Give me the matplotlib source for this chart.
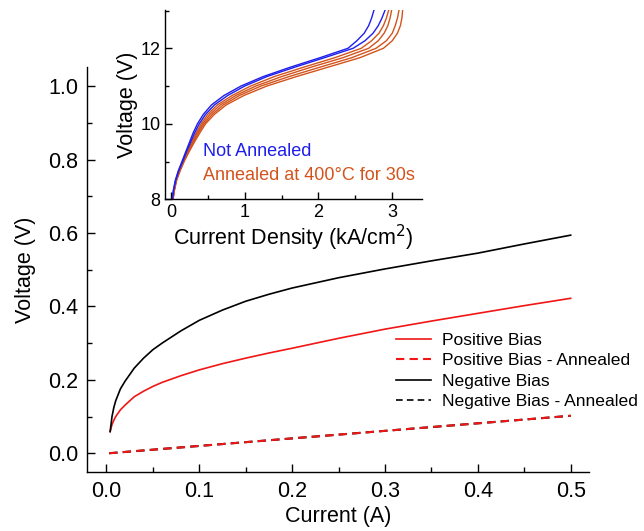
import matplotlib
matplotlib.use('Agg')
import matplotlib.pyplot as plt
from matplotlib.ticker import MultipleLocator

plt.rcParams['font.family'] = ['Liberation Sans', 'DejaVu Sans']

# main chart data
current = [0.004, 0.006, 0.008, 0.01, 0.015, 0.02, 0.03, 0.04, 0.05, 0.06, 0.08, 0.1,
           0.125, 0.15, 0.175, 0.2, 0.25, 0.3, 0.35, 0.4, 0.45, 0.5]
v_neg = [0.059, 0.100, 0.125, 0.143, 0.175, 0.196, 0.232, 0.259, 0.282, 0.300, 0.333, 0.362,
         0.390, 0.414, 0.433, 0.450, 0.478, 0.502, 0.524, 0.545, 0.570, 0.594]
v_pos = [0.059, 0.078, 0.090, 0.100, 0.118, 0.131, 0.154, 0.169, 0.182, 0.193, 0.211, 0.227,
         0.244, 0.259, 0.273, 0.286, 0.313, 0.338, 0.360, 0.381, 0.402, 0.422]
current_ann = [0.003, 0.5]
v_pos_ann = [0.0, 0.102]
v_neg_ann = [0.0, 0.102]

# inset data: current density (kA/cm2) at given voltages
inset_v = [8, 8.1, 8.25, 8.5, 8.75, 9, 9.25, 9.5, 9.75, 10, 10.25, 10.5, 10.75, 11,
           11.25, 11.5, 11.75, 12, 12.2, 12.4, 12.6, 12.8, 13]
not_annealed = [
    [0.02, 0.025, 0.035, 0.06, 0.10, 0.15, 0.20, 0.25, 0.30, 0.36, 0.44, 0.55, 0.72, 0.95,
     1.25, 1.62, 2.02, 2.40, 2.52, 2.62, 2.68, 2.72, 2.75],
    [0.02, 0.025, 0.037, 0.065, 0.105, 0.16, 0.21, 0.265, 0.32, 0.385, 0.47, 0.59, 0.77, 1.0,
     1.30, 1.68, 2.08, 2.47, 2.63, 2.74, 2.81, 2.86, 2.90],
]
annealed = [
    [0.03, 0.035, 0.045, 0.07, 0.11, 0.165, 0.22, 0.28, 0.34, 0.41, 0.50, 0.63, 0.83, 1.08,
     1.40, 1.80, 2.22, 2.58, 2.72, 2.82, 2.88, 2.92, 2.95],
    [0.03, 0.035, 0.046, 0.072, 0.115, 0.17, 0.23, 0.29, 0.355, 0.43, 0.53, 0.67, 0.88, 1.15,
     1.50, 1.90, 2.33, 2.68, 2.81, 2.89, 2.94, 2.97, 2.99],
    [0.03, 0.036, 0.048, 0.075, 0.12, 0.175, 0.235, 0.30, 0.37, 0.45, 0.56, 0.71, 0.93, 1.22,
     1.60, 2.02, 2.45, 2.78, 2.92, 3.00, 3.04, 3.07, 3.09],
    [0.03, 0.037, 0.05, 0.078, 0.125, 0.18, 0.245, 0.315, 0.39, 0.47, 0.59, 0.75, 0.99, 1.30,
     1.70, 2.13, 2.56, 2.88, 3.00, 3.07, 3.11, 3.13, 3.14],
]

RED = '#f01616'
BLUE = '#1e1eee'
ORANGE = '#d2541c'


def style_axes(ax, fs):
    ax.spines['top'].set_visible(False)
    ax.spines['right'].set_visible(False)
    for s in ('left', 'bottom'):
        ax.spines[s].set_linewidth(1.0)
    ax.tick_params(which='both', direction='in', width=1.0, labelsize=fs)
    ax.tick_params(which='major', length=6, pad=6)
    ax.tick_params(which='minor', length=3.5)


fig = plt.figure(figsize=(6.44, 5.31), dpi=100)

ax = fig.add_axes([0.135, 0.1105, 0.78, 0.764])
ax.plot(current, v_pos, color=RED, lw=1.2, label='Positive Bias')
ax.plot(current_ann, v_neg_ann, color='black', lw=1.5, ls=(0, (4, 2.5)))
ax.plot(current_ann, v_pos_ann, color=RED, lw=1.5, ls=(0, (4, 2.5)), label='Positive Bias - Annealed')
ax.plot(current, v_neg, color='black', lw=1.2, label='Negative Bias')
ax.plot([], [], color='black', lw=1.2, ls=(0, (4, 2.5)), label='Negative Bias - Annealed')
ax.set_xlim(-0.021, 0.52)
ax.set_ylim(-0.052, 1.053)
ax.xaxis.set_major_locator(MultipleLocator(0.1))
ax.xaxis.set_minor_locator(MultipleLocator(0.05))
ax.yaxis.set_major_locator(MultipleLocator(0.2))
ax.yaxis.set_minor_locator(MultipleLocator(0.1))
ax.xaxis.set_major_formatter(lambda v, p: f'{v:.1f}')
ax.yaxis.set_major_formatter(lambda v, p: f'{v:.1f}')
style_axes(ax, 15.5)
ax.set_xlabel('Current (A)', fontsize=15.5, labelpad=3)
ax.set_ylabel('Voltage (V)', fontsize=15.5, labelpad=9)

h, l = ax.get_legend_handles_labels()
fig.legend(h, l, loc='upper left', bbox_to_anchor=(0.615, 0.374), frameon=False,
           fontsize=12.6, handlelength=2.0, handletextpad=0.6, labelspacing=0.3,
           borderpad=0, borderaxespad=0)

# inset
ins = fig.add_axes([0.256, 0.6246, 0.399, 0.357])
for j in annealed:
    ins.plot(j, inset_v, color=ORANGE, lw=1.0)
for j in not_annealed:
    ins.plot(j, inset_v, color=BLUE, lw=1.0)
ins.set_xlim(-0.081, 3.40)
ins.set_ylim(8, 13.02)
ins.xaxis.set_major_locator(MultipleLocator(1))
ins.xaxis.set_minor_locator(MultipleLocator(0.5))
ins.yaxis.set_major_locator(MultipleLocator(2))
ins.yaxis.set_minor_locator(MultipleLocator(1))
style_axes(ins, 13)
ins.tick_params(which='major', length=5, pad=3)
ins.tick_params(which='minor', length=3)
ins.set_xlabel('Current Density (kA/cm$^2$)', fontsize=15.5, labelpad=2)
ins.set_ylabel('Voltage (V)', fontsize=15.5, labelpad=2)
ins.text(0.44, 9.15, 'Not Annealed', color=BLUE, fontsize=13, va='baseline')
ins.text(0.44, 8.5, 'Annealed at 400°C for 30s', color=ORANGE, fontsize=13, va='baseline')

fig.savefig('out.png', dpi=100)
